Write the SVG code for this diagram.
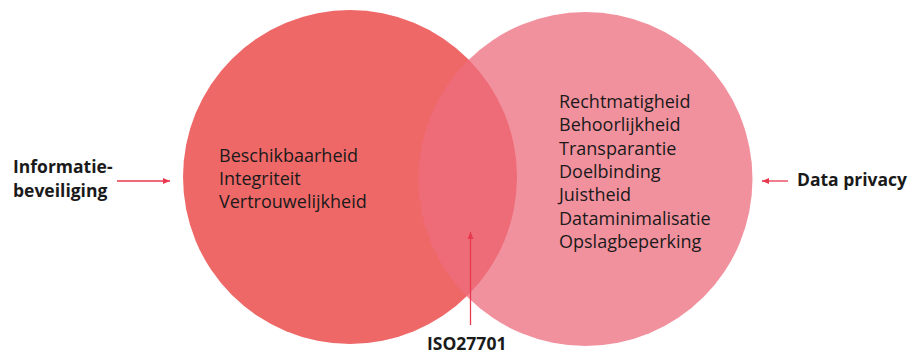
<svg xmlns="http://www.w3.org/2000/svg" width="912" height="355" viewBox="0 0 912 355">
<style>
.t{font-family:"Open Sans","Noto Sans","Liberation Sans",sans-serif;font-size:18px;fill:#1a1a1a}
.b{font-family:"Open Sans","Noto Sans","Liberation Sans",sans-serif;font-size:17.5px;font-weight:bold;fill:#1a1a1a}
.a{stroke:#E8394F;stroke-width:1.3;fill:none}
</style>
<defs>
<marker id="ah" markerWidth="8" markerHeight="8" refX="7" refY="4" orient="auto" markerUnits="userSpaceOnUse">
<path d="M0,1 L7,4 L0,7 Z" fill="#E8394F"/>
</marker>
</defs>
<rect width="912" height="355" fill="#fff"/>
<g id="infosec">
<circle cx="350" cy="177" r="167" fill="#EF6868"/>
<text class="t" x="219" y="162">Beschikbaarheid</text>
<text class="t" x="219" y="185">Integriteit</text>
<text class="t" x="219" y="208">Vertrouwelijkheid</text>
</g>
<g id="privacy">
<circle cx="585.5" cy="179" r="167" fill="#EE6C7D" fill-opacity="0.75"/>
<text class="t" x="559" y="108">Rechtmatigheid</text>
<text class="t" x="559" y="131">Behoorlijkheid</text>
<text class="t" x="559" y="155">Transparantie</text>
<text class="t" x="559" y="178">Doelbinding</text>
<text class="t" x="559" y="201">Juistheid</text>
<text class="t" x="559" y="225">Dataminimalisatie</text>
<text class="t" x="559" y="248">Opslagbeperking</text>
</g>
<g id="label-infosec">
<text class="b" x="13" y="173">Informatie-</text>
<text class="b" x="13" y="197">beveiliging</text>
</g>
<g id="label-privacy">
<text class="b" x="797" y="186">Data privacy</text>
</g>
<g id="label-iso">
<text class="b" x="427" y="350">ISO27701</text>
</g>
<g id="connectors">
<line class="a" x1="117" y1="181" x2="170" y2="181" marker-end="url(#ah)"/>
<line class="a" x1="788" y1="181" x2="762" y2="181" marker-end="url(#ah)"/>
<line class="a" x1="470.5" y1="325" x2="470.5" y2="232" marker-end="url(#ah)"/>
</g>
</svg>
